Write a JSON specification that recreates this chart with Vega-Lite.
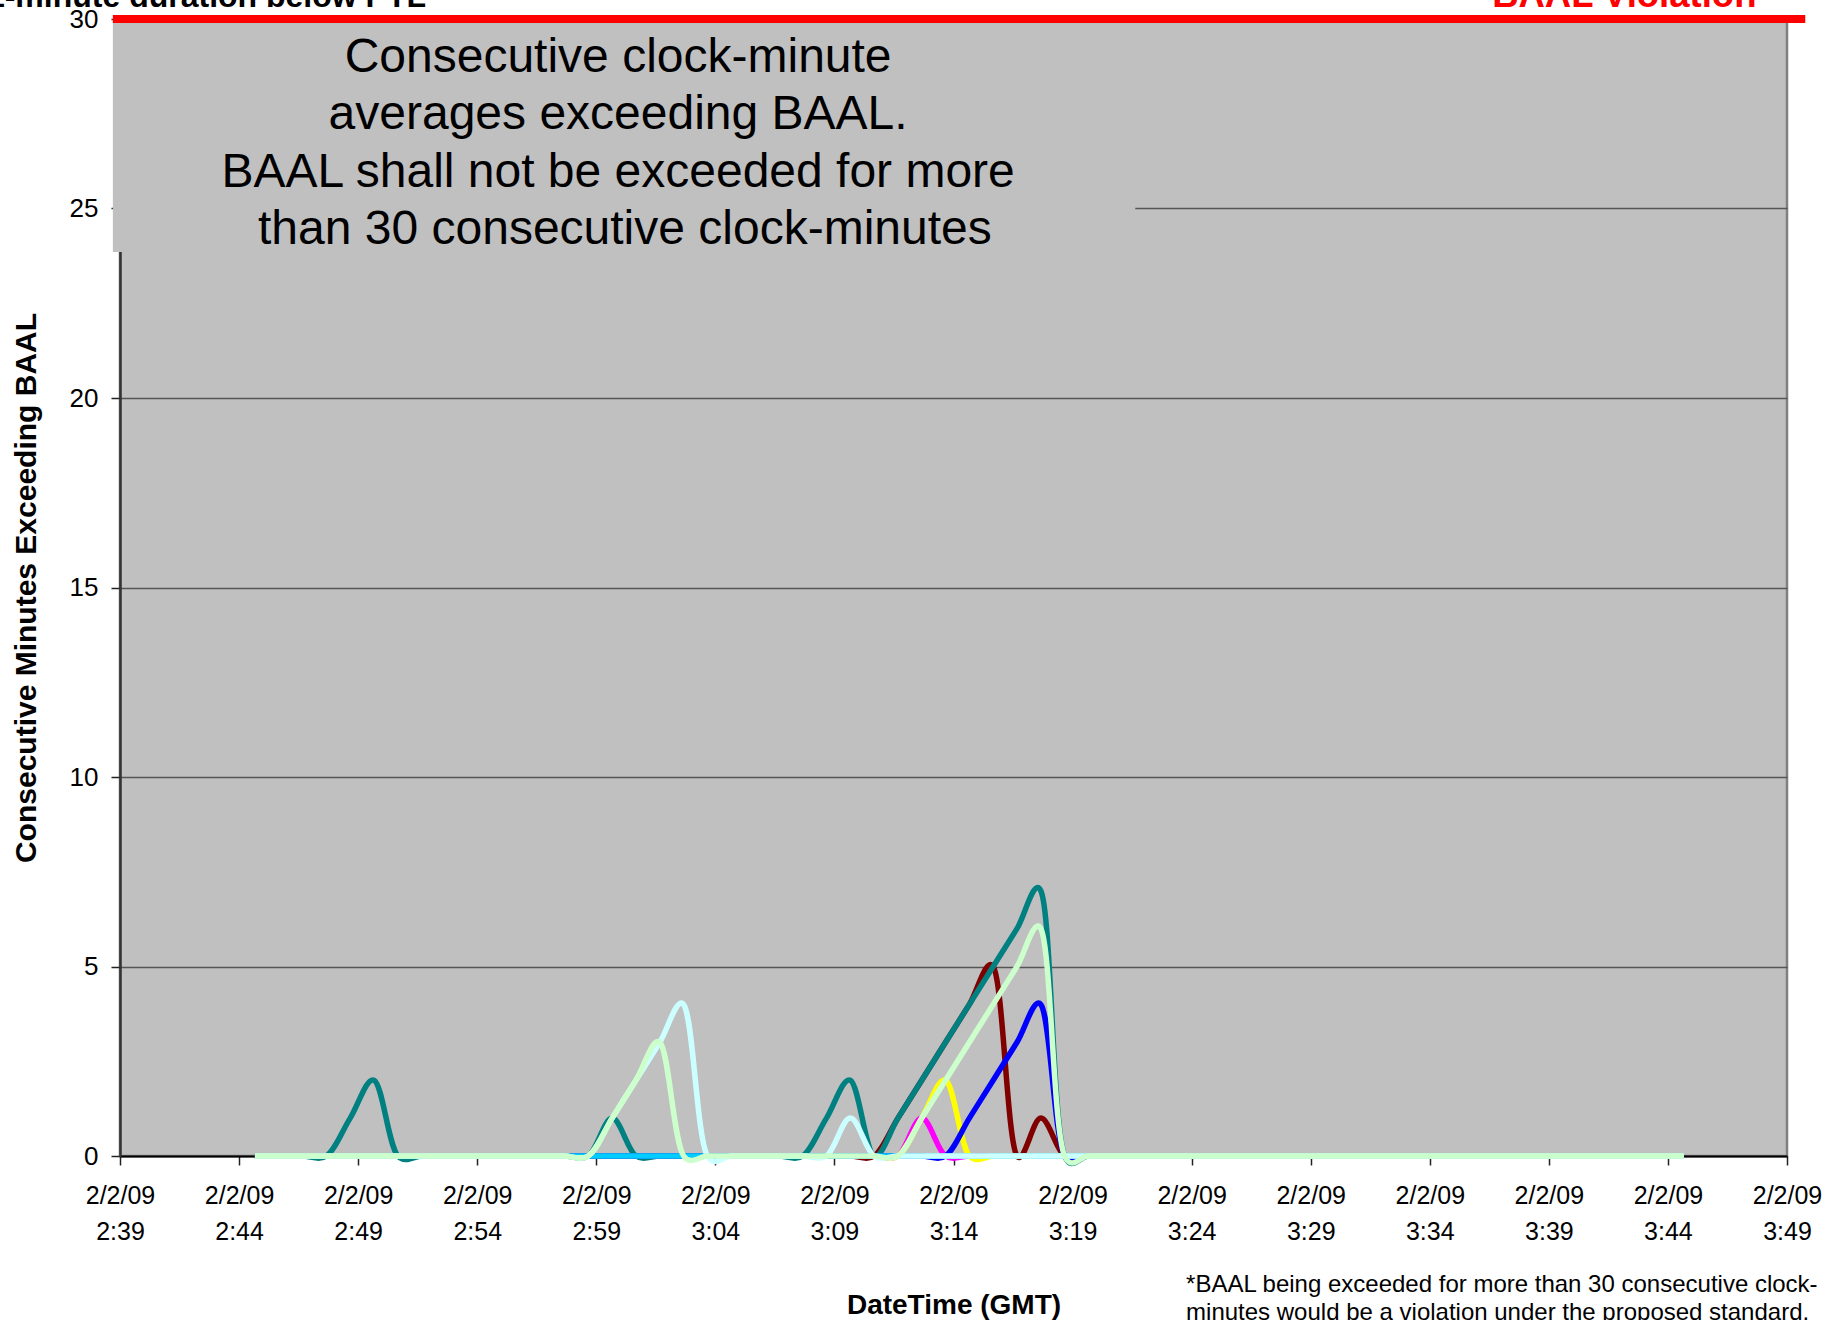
{
  "$schema": "https://vega.github.io/schema/vega-lite/v6.json",
  "width": 1667,
  "height": 1137,
  "autosize": {"type": "none"},
  "padding": {"left": 120, "top": 19, "right": 58, "bottom": 164},
  "background": "white",
  "config": {
    "font": "Liberation Sans",
    "view": {"fill": "#C0C0C0", "stroke": "#808080", "strokeWidth": 2.5}
  },
  "layer": [
    {
      "data": {"values": [
        {"t":"2009-02-02T02:44:40Z","maroon":0,"teal":0,"magenta":0,"yellow":0,"blue":0,"skyblue":0,"lightcyan":0,"lightgreen":0},
        {"t":"2009-02-02T02:45:40Z","maroon":0,"teal":0,"magenta":0,"yellow":0,"blue":0,"skyblue":0,"lightcyan":0,"lightgreen":0},
        {"t":"2009-02-02T02:46:40Z","maroon":0,"teal":0,"magenta":0,"yellow":0,"blue":0,"skyblue":0,"lightcyan":0,"lightgreen":0},
        {"t":"2009-02-02T02:47:40Z","maroon":0,"teal":0,"magenta":0,"yellow":0,"blue":0,"skyblue":0,"lightcyan":0,"lightgreen":0},
        {"t":"2009-02-02T02:48:40Z","maroon":0,"teal":1,"magenta":0,"yellow":0,"blue":0,"skyblue":0,"lightcyan":0,"lightgreen":0},
        {"t":"2009-02-02T02:49:40Z","maroon":0,"teal":2,"magenta":0,"yellow":0,"blue":0,"skyblue":0,"lightcyan":0,"lightgreen":0},
        {"t":"2009-02-02T02:50:40Z","maroon":0,"teal":0,"magenta":0,"yellow":0,"blue":0,"skyblue":0,"lightcyan":0,"lightgreen":0},
        {"t":"2009-02-02T02:51:40Z","maroon":0,"teal":0,"magenta":0,"yellow":0,"blue":0,"skyblue":0,"lightcyan":0,"lightgreen":0},
        {"t":"2009-02-02T02:52:40Z","maroon":0,"teal":0,"magenta":0,"yellow":0,"blue":0,"skyblue":0,"lightcyan":0,"lightgreen":0},
        {"t":"2009-02-02T02:53:40Z","maroon":0,"teal":0,"magenta":0,"yellow":0,"blue":0,"skyblue":0,"lightcyan":0,"lightgreen":0},
        {"t":"2009-02-02T02:54:40Z","maroon":0,"teal":0,"magenta":0,"yellow":0,"blue":0,"skyblue":0,"lightcyan":0,"lightgreen":0},
        {"t":"2009-02-02T02:55:40Z","maroon":0,"teal":0,"magenta":0,"yellow":0,"blue":0,"skyblue":0,"lightcyan":0,"lightgreen":0},
        {"t":"2009-02-02T02:56:40Z","maroon":0,"teal":0,"magenta":0,"yellow":0,"blue":0,"skyblue":0,"lightcyan":0,"lightgreen":0},
        {"t":"2009-02-02T02:57:40Z","maroon":0,"teal":0,"magenta":0,"yellow":0,"blue":0,"skyblue":0,"lightcyan":0,"lightgreen":0},
        {"t":"2009-02-02T02:58:40Z","maroon":0,"teal":0,"magenta":0,"yellow":0,"blue":0,"skyblue":0,"lightcyan":0,"lightgreen":0},
        {"t":"2009-02-02T02:59:40Z","maroon":0,"teal":1,"magenta":0,"yellow":0,"blue":0,"skyblue":0,"lightcyan":1,"lightgreen":1},
        {"t":"2009-02-02T03:00:40Z","maroon":0,"teal":0,"magenta":0,"yellow":0,"blue":0,"skyblue":0,"lightcyan":2,"lightgreen":2},
        {"t":"2009-02-02T03:01:40Z","maroon":0,"teal":0,"magenta":0,"yellow":0,"blue":0,"skyblue":0,"lightcyan":3,"lightgreen":3},
        {"t":"2009-02-02T03:02:40Z","maroon":0,"teal":0,"magenta":0,"yellow":0,"blue":0,"skyblue":0,"lightcyan":4,"lightgreen":0},
        {"t":"2009-02-02T03:03:40Z","maroon":0,"teal":0,"magenta":0,"yellow":0,"blue":0,"skyblue":0,"lightcyan":0,"lightgreen":0},
        {"t":"2009-02-02T03:04:40Z","maroon":0,"teal":0,"magenta":0,"yellow":0,"blue":0,"skyblue":0,"lightcyan":0,"lightgreen":0},
        {"t":"2009-02-02T03:05:40Z","maroon":0,"teal":0,"magenta":0,"yellow":0,"blue":0,"skyblue":0,"lightcyan":0,"lightgreen":0},
        {"t":"2009-02-02T03:06:40Z","maroon":0,"teal":0,"magenta":0,"yellow":0,"blue":0,"skyblue":0,"lightcyan":0,"lightgreen":0},
        {"t":"2009-02-02T03:07:40Z","maroon":0,"teal":0,"magenta":0,"yellow":0,"blue":0,"skyblue":0,"lightcyan":0,"lightgreen":0},
        {"t":"2009-02-02T03:08:40Z","maroon":0,"teal":1,"magenta":0,"yellow":0,"blue":0,"skyblue":0,"lightcyan":0,"lightgreen":0},
        {"t":"2009-02-02T03:09:40Z","maroon":0,"teal":2,"magenta":0,"yellow":0,"blue":0,"skyblue":0,"lightcyan":1,"lightgreen":0},
        {"t":"2009-02-02T03:10:40Z","maroon":0,"teal":0,"magenta":0,"yellow":0,"blue":0,"skyblue":0,"lightcyan":0,"lightgreen":0},
        {"t":"2009-02-02T03:11:40Z","maroon":1,"teal":1,"magenta":0,"yellow":0,"blue":0,"skyblue":0,"lightcyan":0,"lightgreen":0},
        {"t":"2009-02-02T03:12:40Z","maroon":2,"teal":2,"magenta":1,"yellow":1,"blue":0,"skyblue":0,"lightcyan":0,"lightgreen":1},
        {"t":"2009-02-02T03:13:40Z","maroon":3,"teal":3,"magenta":0,"yellow":2,"blue":0,"skyblue":0,"lightcyan":0,"lightgreen":2},
        {"t":"2009-02-02T03:14:40Z","maroon":4,"teal":4,"magenta":0,"yellow":0,"blue":1,"skyblue":0,"lightcyan":0,"lightgreen":3},
        {"t":"2009-02-02T03:15:40Z","maroon":5,"teal":5,"magenta":0,"yellow":0,"blue":2,"skyblue":0,"lightcyan":0,"lightgreen":4},
        {"t":"2009-02-02T03:16:40Z","maroon":0,"teal":6,"magenta":0,"yellow":0,"blue":3,"skyblue":0,"lightcyan":0,"lightgreen":5},
        {"t":"2009-02-02T03:17:40Z","maroon":1,"teal":7,"magenta":0,"yellow":0,"blue":4,"skyblue":0,"lightcyan":0,"lightgreen":6},
        {"t":"2009-02-02T03:18:40Z","maroon":0,"teal":0,"magenta":0,"yellow":0,"blue":0,"skyblue":0,"lightcyan":0,"lightgreen":0},
        {"t":"2009-02-02T03:19:40Z","maroon":0,"teal":0,"magenta":0,"yellow":0,"blue":0,"skyblue":0,"lightcyan":0,"lightgreen":0},
        {"t":"2009-02-02T03:20:40Z","maroon":0,"teal":0,"magenta":0,"yellow":0,"blue":0,"skyblue":0,"lightcyan":0,"lightgreen":0},
        {"t":"2009-02-02T03:21:40Z","maroon":0,"teal":0,"magenta":0,"yellow":0,"blue":0,"skyblue":0,"lightcyan":0,"lightgreen":0},
        {"t":"2009-02-02T03:22:40Z","maroon":0,"teal":0,"magenta":0,"yellow":0,"blue":0,"skyblue":0,"lightcyan":0,"lightgreen":0},
        {"t":"2009-02-02T03:23:40Z","maroon":0,"teal":0,"magenta":0,"yellow":0,"blue":0,"skyblue":0,"lightcyan":0,"lightgreen":0},
        {"t":"2009-02-02T03:24:40Z","maroon":0,"teal":0,"magenta":0,"yellow":0,"blue":0,"skyblue":0,"lightcyan":0,"lightgreen":0},
        {"t":"2009-02-02T03:25:40Z","maroon":0,"teal":0,"magenta":0,"yellow":0,"blue":0,"skyblue":0,"lightcyan":0,"lightgreen":0},
        {"t":"2009-02-02T03:26:40Z","maroon":0,"teal":0,"magenta":0,"yellow":0,"blue":0,"skyblue":0,"lightcyan":0,"lightgreen":0},
        {"t":"2009-02-02T03:27:40Z","maroon":0,"teal":0,"magenta":0,"yellow":0,"blue":0,"skyblue":0,"lightcyan":0,"lightgreen":0},
        {"t":"2009-02-02T03:28:40Z","maroon":0,"teal":0,"magenta":0,"yellow":0,"blue":0,"skyblue":0,"lightcyan":0,"lightgreen":0},
        {"t":"2009-02-02T03:29:40Z","maroon":0,"teal":0,"magenta":0,"yellow":0,"blue":0,"skyblue":0,"lightcyan":0,"lightgreen":0},
        {"t":"2009-02-02T03:30:40Z","maroon":0,"teal":0,"magenta":0,"yellow":0,"blue":0,"skyblue":0,"lightcyan":0,"lightgreen":0},
        {"t":"2009-02-02T03:31:40Z","maroon":0,"teal":0,"magenta":0,"yellow":0,"blue":0,"skyblue":0,"lightcyan":0,"lightgreen":0},
        {"t":"2009-02-02T03:32:40Z","maroon":0,"teal":0,"magenta":0,"yellow":0,"blue":0,"skyblue":0,"lightcyan":0,"lightgreen":0},
        {"t":"2009-02-02T03:33:40Z","maroon":0,"teal":0,"magenta":0,"yellow":0,"blue":0,"skyblue":0,"lightcyan":0,"lightgreen":0},
        {"t":"2009-02-02T03:34:40Z","maroon":0,"teal":0,"magenta":0,"yellow":0,"blue":0,"skyblue":0,"lightcyan":0,"lightgreen":0},
        {"t":"2009-02-02T03:35:40Z","maroon":0,"teal":0,"magenta":0,"yellow":0,"blue":0,"skyblue":0,"lightcyan":0,"lightgreen":0},
        {"t":"2009-02-02T03:36:40Z","maroon":0,"teal":0,"magenta":0,"yellow":0,"blue":0,"skyblue":0,"lightcyan":0,"lightgreen":0},
        {"t":"2009-02-02T03:37:40Z","maroon":0,"teal":0,"magenta":0,"yellow":0,"blue":0,"skyblue":0,"lightcyan":0,"lightgreen":0},
        {"t":"2009-02-02T03:38:40Z","maroon":0,"teal":0,"magenta":0,"yellow":0,"blue":0,"skyblue":0,"lightcyan":0,"lightgreen":0},
        {"t":"2009-02-02T03:39:40Z","maroon":0,"teal":0,"magenta":0,"yellow":0,"blue":0,"skyblue":0,"lightcyan":0,"lightgreen":0},
        {"t":"2009-02-02T03:40:40Z","maroon":0,"teal":0,"magenta":0,"yellow":0,"blue":0,"skyblue":0,"lightcyan":0,"lightgreen":0},
        {"t":"2009-02-02T03:41:40Z","maroon":0,"teal":0,"magenta":0,"yellow":0,"blue":0,"skyblue":0,"lightcyan":0,"lightgreen":0},
        {"t":"2009-02-02T03:42:40Z","maroon":0,"teal":0,"magenta":0,"yellow":0,"blue":0,"skyblue":0,"lightcyan":0,"lightgreen":0},
        {"t":"2009-02-02T03:43:40Z","maroon":0,"teal":0,"magenta":0,"yellow":0,"blue":0,"skyblue":0,"lightcyan":0,"lightgreen":0},
        {"t":"2009-02-02T03:44:40Z","maroon":0,"teal":0,"magenta":0,"yellow":0,"blue":0,"skyblue":0,"lightcyan":0,"lightgreen":0}
      ]},
      "transform": [
        {"fold": ["maroon", "teal", "magenta", "yellow", "blue", "skyblue", "lightcyan", "lightgreen"], "as": ["series", "value"]}
      ],
      "mark": {"type": "line", "interpolate": "catmull-rom", "tension": 0.25, "strokeWidth": 5.5, "strokeJoin": "round"},
      "encoding": {
        "x": {
          "field": "t", "type": "temporal",
          "scale": {"type": "utc", "nice": false, "domain": [
            {"year": 2009, "month": 2, "date": 2, "hours": 2, "minutes": 39, "utc": true},
            {"year": 2009, "month": 2, "date": 2, "hours": 3, "minutes": 49, "utc": true}
          ]},
          "axis": {
            "values": [
              {"year": 2009, "month": 2, "date": 2, "hours": 2, "minutes": 39, "utc": true},
              {"year": 2009, "month": 2, "date": 2, "hours": 2, "minutes": 44, "utc": true},
              {"year": 2009, "month": 2, "date": 2, "hours": 2, "minutes": 49, "utc": true},
              {"year": 2009, "month": 2, "date": 2, "hours": 2, "minutes": 54, "utc": true},
              {"year": 2009, "month": 2, "date": 2, "hours": 2, "minutes": 59, "utc": true},
              {"year": 2009, "month": 2, "date": 2, "hours": 3, "minutes": 4, "utc": true},
              {"year": 2009, "month": 2, "date": 2, "hours": 3, "minutes": 9, "utc": true},
              {"year": 2009, "month": 2, "date": 2, "hours": 3, "minutes": 14, "utc": true},
              {"year": 2009, "month": 2, "date": 2, "hours": 3, "minutes": 19, "utc": true},
              {"year": 2009, "month": 2, "date": 2, "hours": 3, "minutes": 24, "utc": true},
              {"year": 2009, "month": 2, "date": 2, "hours": 3, "minutes": 29, "utc": true},
              {"year": 2009, "month": 2, "date": 2, "hours": 3, "minutes": 34, "utc": true},
              {"year": 2009, "month": 2, "date": 2, "hours": 3, "minutes": 39, "utc": true},
              {"year": 2009, "month": 2, "date": 2, "hours": 3, "minutes": 44, "utc": true},
              {"year": 2009, "month": 2, "date": 2, "hours": 3, "minutes": 49, "utc": true}
            ],
            "labelExpr": "['2/2/09', utcFormat(datum.value, '%-H:%M')]",
            "labelFontSize": 25,
            "labelColor": "black",
            "labelLineHeight": 36,
            "labelBaseline": "top",
            "labelPadding": 18,
            "labelFlush": false,
            "labelOverlap": false,
            "tickSize": 9,
            "tickColor": "#222222",
            "tickWidth": 1.5,
            "domainColor": "black",
            "domainWidth": 2,
            "grid": false,
            "title": "DateTime (GMT)",
            "titleFontSize": 28,
            "titleFontWeight": "bold",
            "titleColor": "black",
            "titleY": 157,
            "titleBaseline": "alphabetic"
          }
        },
        "y": {
          "field": "value", "type": "quantitative",
          "scale": {"domain": [0, 30], "nice": false},
          "axis": {
            "values": [0, 5, 10, 15, 20, 25, 30],
            "grid": true,
            "gridColor": "#555555",
            "gridWidth": 1.5,
            "labelFontSize": 26,
            "labelColor": "black",
            "labelPadding": 13,
            "tickSize": 9,
            "tickColor": "#222222",
            "tickWidth": 1.5,
            "domainColor": "#333333",
            "domainWidth": 2.5,
            "title": "Consecutive Minutes Exceeding BAAL",
            "titleFontSize": 30,
            "titleFontWeight": "bold",
            "titleColor": "black",
            "titleX": -94,
            "titleY": 568.5,
            "titleBaseline": "middle",
            "titleAlign": "center",
            "titleAngle": 270
          }
        },
        "color": {
          "field": "series", "type": "nominal",
          "scale": {
            "domain": ["maroon", "teal", "magenta", "yellow", "blue", "skyblue", "lightcyan", "lightgreen"],
            "range": ["#800000", "#008080", "#FF00FF", "#FFFF00", "#0000FF", "#00CCFF", "#CCFFFF", "#CCFFCC"]
          },
          "legend": null
        }
      }
    },
    {
      "data": {"values": [{}]},
      "mark": {"type": "rect", "color": "#C0C0C0"},
      "encoding": {
        "x": {"datum": {"year": 2009, "month": 2, "date": 2, "hours": 2, "minutes": 38, "seconds": 42, "utc": true}, "type": "temporal"},
        "x2": {"datum": {"year": 2009, "month": 2, "date": 2, "hours": 3, "minutes": 21, "seconds": 38, "utc": true}},
        "y": {"datum": 30, "type": "quantitative"},
        "y2": {"datum": 23.85}
      }
    },
    {
      "data": {"values": [{}]},
      "mark": {
        "type": "text", "align": "center", "baseline": "middle", "fontSize": 48, "lineHeight": 57.5, "color": "black",
        "text": ["Consecutive clock-minute", "averages exceeding BAAL.", "BAAL shall not be exceeded for more"]
      },
      "encoding": {
        "x": {"datum": {"year": 2009, "month": 2, "date": 2, "hours": 2, "minutes": 59, "seconds": 55, "utc": true}, "type": "temporal"},
        "y": {"datum": 28.98, "type": "quantitative"}
      }
    },
    {
      "data": {"values": [{}]},
      "mark": {"type": "text", "align": "center", "baseline": "middle", "fontSize": 48, "color": "black", "text": "than 30 consecutive clock-minutes"},
      "encoding": {
        "x": {"datum": {"year": 2009, "month": 2, "date": 2, "hours": 3, "minutes": 0, "seconds": 12, "utc": true}, "type": "temporal"},
        "y": {"datum": 24.43, "type": "quantitative"}
      }
    },
    {
      "data": {"values": [{}]},
      "mark": {"type": "rule", "color": "#FF0000", "strokeWidth": 8},
      "encoding": {
        "x": {"datum": {"year": 2009, "month": 2, "date": 2, "hours": 2, "minutes": 38, "seconds": 42, "utc": true}, "type": "temporal"},
        "x2": {"datum": {"year": 2009, "month": 2, "date": 2, "hours": 3, "minutes": 49, "seconds": 46, "utc": true}},
        "y": {"datum": 30, "type": "quantitative"}
      }
    },
    {
      "data": {"values": [{}]},
      "mark": {"type": "text", "align": "right", "baseline": "alphabetic", "fontSize": 32, "fontWeight": "bold", "color": "black", "text": "1-minute duration below PTL"},
      "encoding": {
        "x": {"datum": {"year": 2009, "month": 2, "date": 2, "hours": 2, "minutes": 51, "seconds": 51, "utc": true}, "type": "temporal"},
        "y": {"datum": 30.31, "type": "quantitative"}
      }
    },
    {
      "data": {"values": [{}]},
      "mark": {"type": "text", "align": "right", "baseline": "alphabetic", "fontSize": 36.5, "fontWeight": "bold", "color": "#FF0000", "text": "BAAL Violation"},
      "encoding": {
        "x": {"datum": {"year": 2009, "month": 2, "date": 2, "hours": 3, "minutes": 47, "seconds": 43, "utc": true}, "type": "temporal"},
        "y": {"datum": 30.31, "type": "quantitative"}
      }
    },
    {
      "data": {"values": [{}]},
      "mark": {
        "type": "text", "align": "left", "baseline": "alphabetic", "fontSize": 24, "lineHeight": 28, "color": "black",
        "text": ["*BAAL being exceeded for more than 30 consecutive clock-", "minutes would be a violation under the proposed standard."]
      },
      "encoding": {
        "x": {"datum": {"year": 2009, "month": 2, "date": 2, "hours": 3, "minutes": 23, "seconds": 46, "utc": true}, "type": "temporal"},
        "y": {"datum": -3.578, "type": "quantitative"}
      }
    }
  ]
}
